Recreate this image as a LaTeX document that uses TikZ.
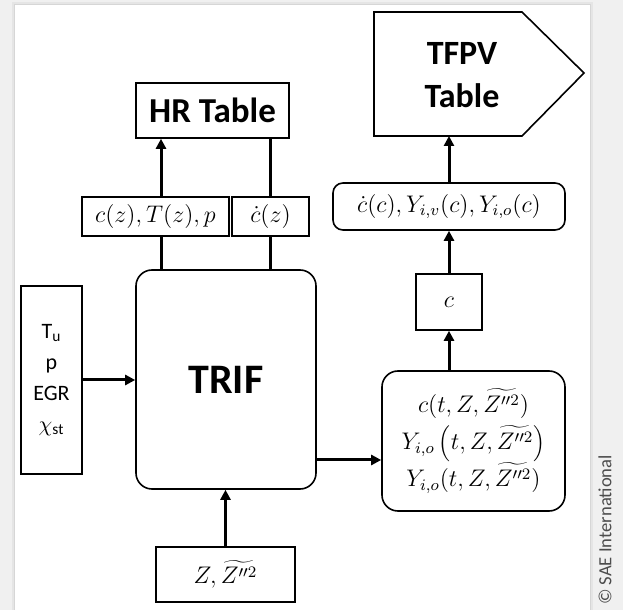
\documentclass[tikz,border=0pt]{standalone}
\usepackage{fontspec}
\setmainfont{Carlito}
\usetikzlibrary{arrows.meta}

\begin{document}
\begin{tikzpicture}[x=0.5pt,y=-0.5pt] % one unit = one pixel, y grows downward
\tikzstyle{myblock} = [draw, line width=0.8pt, fill=white, inner sep=0pt, font=\fontsize{12}{14}\selectfont] % plain block
\tikzstyle{myround} = [myblock, rounded corners=8pt] % block with rounded corners
\tikzstyle{mytitle} = [font=\fontsize{17.5}{21.5}\selectfont\bfseries, align=center] % big bold caption
\tikzstyle{mylink} = [line width=1.5pt] % thick connector
\tikzstyle{myarrow} = [mylink, -{Triangle[length=5pt,width=5pt]}] % thick connector with a head

\useasboundingbox (0,0) rectangle (623,610);
\fill[black!6] (0,0) rectangle (623,610); % grey page
\fill[black!10] (12,2) rectangle (593,610); % soft shadow of the sheet
\fill[black!16] (14,4) rectangle (591,610);
\fill[white] (15,5) rectangle (590,610); % sheet

% tables
\node[myblock, mytitle, minimum width=76.5pt, minimum height=27.5pt] (hr) at (212.5,110.5) {HR Table};
\draw[line width=0.8pt, fill=white] (374,12) -- (522,12) -- (584,73) -- (522,136) -- (374,136) -- cycle; % arrow-like table shape
\node[mytitle, font=\fontsize{17}{21.5}\selectfont\bfseries] (tfpv) at (462,75.5) {TFPV\\Table};
\coordinate (tfpvin) at (449,136); % bottom entry of the table

% left part
\node[myblock, minimum width=73.5pt, minimum height=19.5pt] (czt) at (155.5,216.5) {$c(z), T(z), p$};
\node[myblock, minimum width=38.5pt, minimum height=19.5pt] (cdz) at (270.5,216.5) {$\dot{c}(z)$};
\node[myround, minimum width=90pt, minimum height=109.5pt, font=\fontsize{21}{25}\selectfont\bfseries] (trif) at (226,379.5) {TRIF};
\node[myblock, minimum width=30.5pt, minimum height=94pt, align=center, font=\fontsize{11}{15.5}\selectfont] (inp) at (51.5,380) {T\textsubscript{u}\\p\\EGR\\$\chi_{\mathrm{st}}$};
\node[myblock, minimum width=69.5pt, minimum height=27.5pt] (zin) at (225.5,574.5) {$Z, \widetilde{Z''^2}$};

% right part
\node[myround, minimum width=91.5pt, minimum height=70pt, align=center, font=\fontsize{12}{18.5}\selectfont] (yout) at (473.5,441)
    {$c(t,Z,\widetilde{Z''^2})$\\$Y_{i,o}\left(t,Z,\widetilde{Z''^2}\right)$\\$Y_{i,o}(t,Z,\widetilde{Z''^2})$};
\node[myblock, minimum width=33pt, minimum height=28pt] (cbox) at (449,302) {$c$};
\node[myblock, rounded corners=5pt, minimum width=116pt, minimum height=23.5pt] (cdot) at (449,206.5) {$\dot{c}(c), Y_{i,v}(c), Y_{i,o}(c)$};

\node[rotate=90, text=black!70, font=\fontsize{9.3}{11}\selectfont] (sae) at (605,530) {\textcopyright{} SAE International};

% connectors
\coordinate (la) at (161,0);
\coordinate (lb) at (270,0);
\coordinate (tout) at (0,460);
\draw[mylink] (trif.north -| la) -- (czt.south -| la);
\draw[myarrow] (czt.north -| la) -- (hr.south -| la);
\draw[mylink] (trif.north -| lb) -- (cdz.south -| lb);
\draw[mylink] (cdz.north -| lb) -- (hr.south -| lb);
\draw[myarrow] (inp.east) -- (inp.east -| trif.west);
\draw[myarrow] (zin.north) -- (zin.north |- trif.south);
\draw[myarrow] (trif.east |- tout) -- (yout.west |- tout);
\draw[myarrow] (yout.north -| cbox) -- (cbox.south);
\draw[myarrow] (cbox.north) -- (cdot.south);
\draw[myarrow] (cdot.north) -- (tfpvin);
\end{tikzpicture}
\end{document}
